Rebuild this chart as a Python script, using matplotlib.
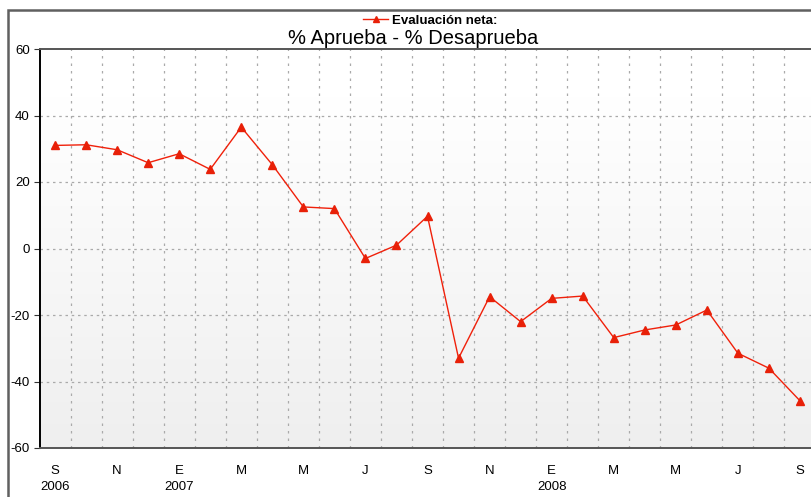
import matplotlib
matplotlib.use("Agg")
import matplotlib.pyplot as plt
import numpy as np
from matplotlib.patches import Rectangle
from matplotlib.lines import Line2D

plt.rcParams['font.family'] = ['Liberation Sans', 'DejaVu Sans']

months = ["S06","O06","N06","D06","E07","F07","M07","A07","M07b","J07","J07b","A07b",
          "S07","O07","N07","D07","E08","F08","M08","A08","M08b","J08","J08b","A08b","S08"]
values = [31.0, 31.2, 29.7, 25.8, 28.5, 23.8, 36.5, 25.2, 12.5, 12.0, -3.0, 1.0,
          9.7, -33.0, -14.5, -22.0, -15.0, -14.3, -26.8, -24.5, -23.0, -18.5, -31.5, -36.0, -45.8]
tick_labels = ["S\n2006", "N", "E\n2007", "M", "M", "J", "S", "N", "E\n2008", "M", "M", "J", "S"]
y_ticks = [-60, -40, -20, 0, 20, 40, 60]

W, H = 811, 497
fig = plt.figure(figsize=(W/100, H/100), dpi=100)

# outer frame
fig.patches.append(Rectangle((8/W, -0.1), 1.2, (H-10)/H + 0.1, transform=fig.transFigure,
                             fill=False, edgecolor='#606060', linewidth=1.8))

x0, x1 = 39.5, 815.5
ytop, ybot = 49, 448
ax = fig.add_axes([x0/W, 1-ybot/H, (x1-x0)/W, (ybot-ytop)/H])
x = np.arange(len(values))
ax.set_xlim(-0.5, len(values)-0.5)
ax.set_ylim(-60, 60)

# gradient background
grad = np.linspace(0, 1, 256).reshape(-1, 1)
cols = np.ones((256, 1, 3))
g = 0.937 + (1-0.937)*np.clip((grad-0.0)/0.88, 0, 1)
cols[:, 0, 0] = g[:, 0]; cols[:, 0, 1] = g[:, 0]; cols[:, 0, 2] = g[:, 0]
ax.imshow(cols, extent=(-0.5, len(values)-0.5, -60, 60), origin='lower', aspect='auto', zorder=0)

# grid
for xv in np.arange(0.5, len(values)-0.5, 1):
    ax.axvline(xv, color='#aaaaaa', linestyle=(0, (2, 4)), linewidth=0.9, zorder=1)
for yv in [-40, -20, 0, 20, 40]:
    ax.axhline(yv, color='#aaaaaa', linestyle=(0, (2, 3)), linewidth=0.9, zorder=1)

ax.plot(x, values, color='#f0200a', linewidth=1.0, marker='^', markersize=5.5,
        markerfacecolor='#e82008', markeredgecolor='#e82008', zorder=3, clip_on=False)

ax.set_yticks(y_ticks)
ax.set_yticklabels([str(v) for v in y_ticks], fontsize=9.5)
ax.set_xticks(np.arange(0, len(values), 2))
ax.set_xticklabels(tick_labels, fontsize=9.5, linespacing=1.5, va='top')
ax.tick_params(axis='x', length=0, pad=12)
ax.tick_params(axis='y', length=4, width=0.8, pad=3, direction='out', color='#333333')

for s in ['right']:
    ax.spines[s].set_visible(False)
ax.spines['left'].set_color('black'); ax.spines['left'].set_linewidth(1.4)
ax.spines['top'].set_color('#555555'); ax.spines['top'].set_linewidth(1.4)
ax.spines['bottom'].set_color('#555555'); ax.spines['bottom'].set_linewidth(1.4)

# legend
ly = 1 - 19/H
fig.add_artist(Line2D([363/W, 388/W], [ly, ly], color='#f0200a', linewidth=1.0,
                      transform=fig.transFigure))
fig.add_artist(Line2D([375.5/W], [ly], color='#e82008', marker='^', markersize=5,
                      transform=fig.transFigure))
fig.text(392/W, 1 - 24/H, "Evaluación neta:", fontsize=9.5, fontweight='bold', va='baseline', ha='left')
fig.text(413/W, 1-38/H, "% Aprueba - % Desaprueba", fontsize=14.5, va='center', ha='center')

fig.savefig("out.png", dpi=100)
